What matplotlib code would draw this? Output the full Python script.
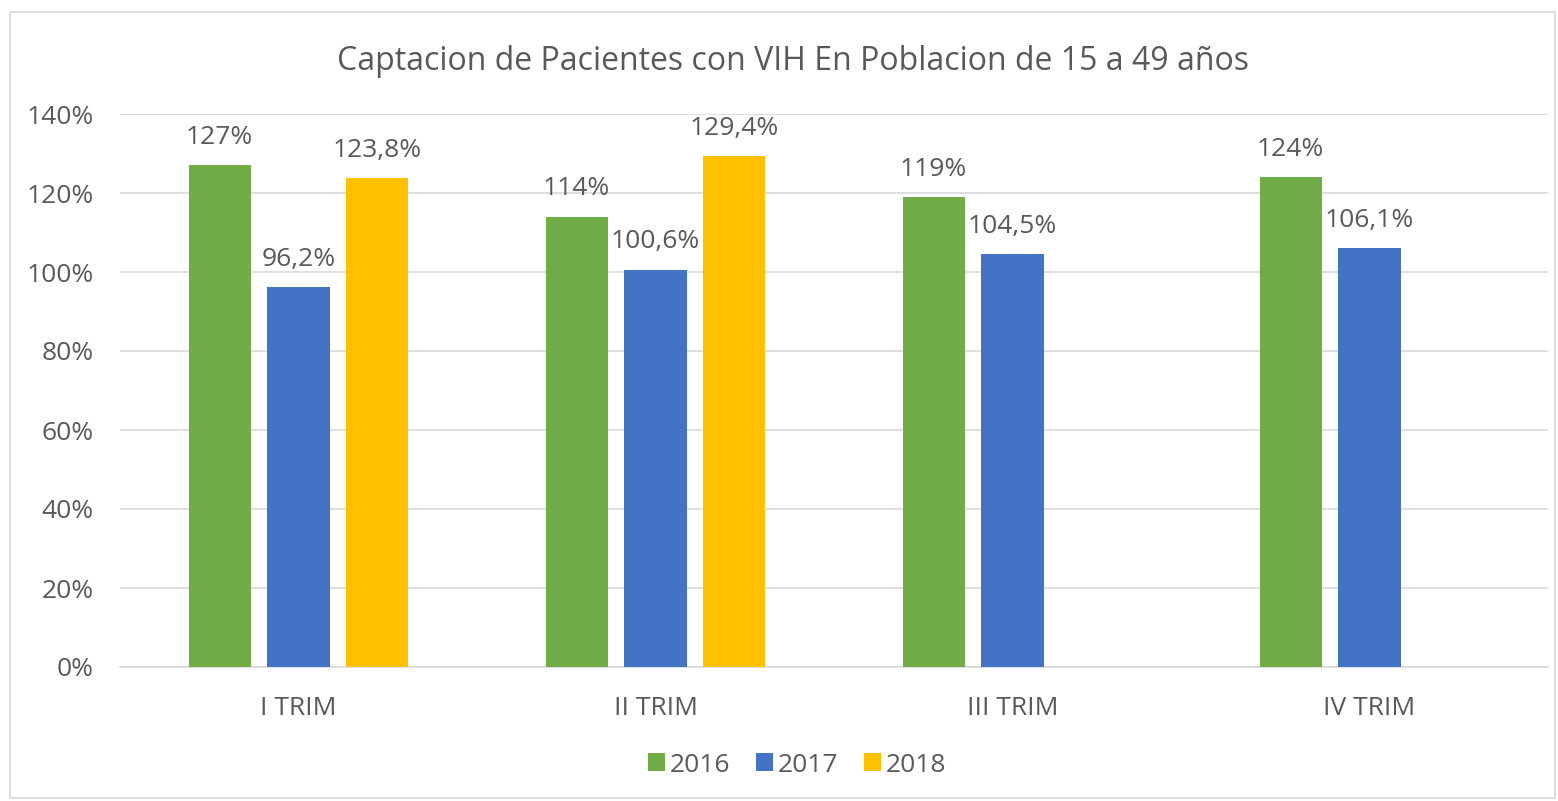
import numpy as np
from matplotlib import pyplot as plt
from matplotlib.patches import Rectangle

categorias = ["I TRIM", "II TRIM", "III TRIM", "IV TRIM"]
anios = ["2016", "2017", "2018"]
valores_2016 = [127, 114, 119, 124]
valores_2017 = [96.2, 100.6, 104.5, 106.1]
valores_2018 = [123.8, 129.4, np.nan, np.nan]
etiquetas_2016 = ["127%", "114%", "119%", "124%"]
etiquetas_2017 = ["96,2%", "100,6%", "104,5%", "106,1%"]
etiquetas_2018 = ["123,8%", "129,4%", "", ""]
colores = ["#70AD47", "#4472C4", "#FFC000"]

gris = "#595959"
plt.rcParams['font.family'] = ['Open Sans', 'DejaVu Sans']

def graficar():
    fig = plt.figure(figsize=(15.58, 8.01), dpi=100)
    fig.patches.append(Rectangle((10/1558, 3/801), 1545/1558, 786/801, transform=fig.transFigure,
                                 fill=False, edgecolor="#d9d9d9", linewidth=1.2))
    ax = fig.add_axes([120/1558, 1-667/801, 1428/1558, 553/801])

    x = np.arange(len(categorias))
    ancho = 0.174
    paso = 0.221
    series = [valores_2016, valores_2017, valores_2018]
    etiquetas = [etiquetas_2016, etiquetas_2017, etiquetas_2018]
    for i, (vals, etq) in enumerate(zip(series, etiquetas)):
        pos = x + (i - 1) * paso
        ax.bar(pos, vals, width=ancho, color=colores[i], label=anios[i], zorder=3)
        for p, v, t in zip(pos, vals, etq):
            if t:
                ax.annotate(t, (p, v), xytext=(0, 11), textcoords="offset points",
                            ha="center", va="bottom", fontsize=19, color=gris)

    ax.set_xlim(-0.5, 3.5)
    ax.set_ylim(0, 140)
    ax.set_yticks(range(0, 141, 20))
    ax.set_yticklabels([f"{v}%" for v in range(0, 141, 20)])
    ax.set_xticks(x)
    ax.set_xticklabels(categorias)
    ax.tick_params(length=0, labelsize=19, labelcolor=gris)
    ax.tick_params(axis="x", pad=21)
    ax.tick_params(axis="y", pad=19)
    ax.grid(axis="y", color="#d9d9d9", linewidth=1.2, zorder=0)
    for s in ["top", "right", "left"]:
        ax.spines[s].set_visible(False)
    ax.spines["bottom"].set_color("#d9d9d9")
    ax.spines["bottom"].set_linewidth(1.2)

    fig.text(793/1558, 1-61/801, "Captacion de Pacientes con VIH En Poblacion de 15 a 49 años",
             ha="center", va="center", fontsize=23, color=gris)
    fig.legend(loc="center", bbox_to_anchor=(797/1558, 1-765/801), ncol=3, frameon=False,
               fontsize=19, labelcolor=gris, handlelength=0.65, handleheight=0.65,
               handletextpad=0.15, columnspacing=1.0)
    fig.savefig("out.png", dpi=100)

if __name__ == "__main__":
    graficar()
